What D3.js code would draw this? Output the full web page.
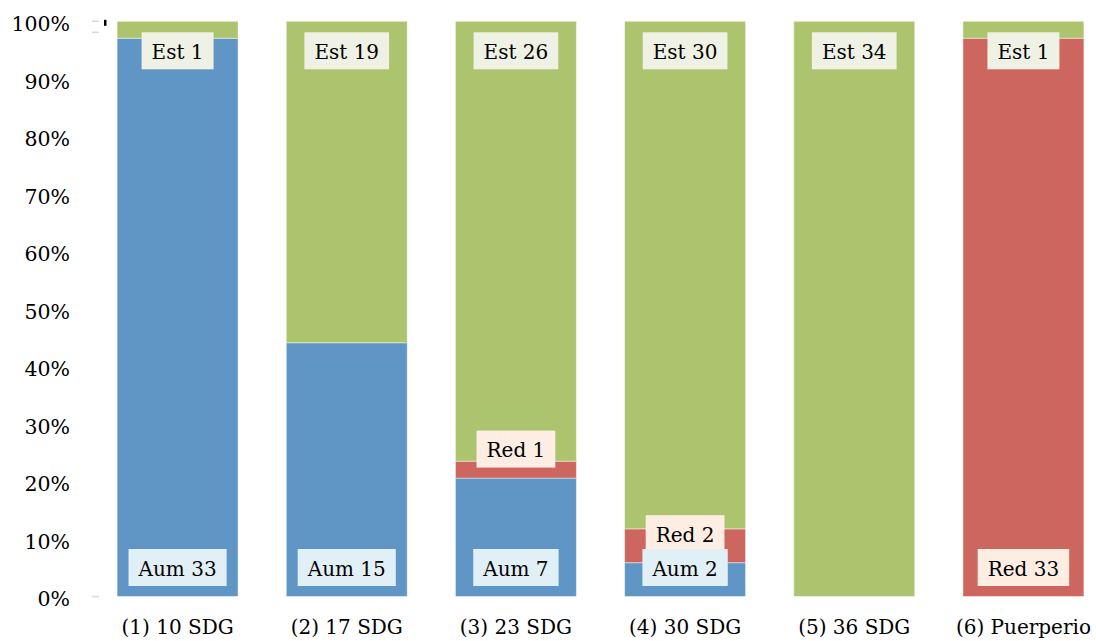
<!DOCTYPE html>
<html>
<head>
<meta charset="utf-8">
<script src="https://cdn.jsdelivr.net/npm/d3@7"></script>
<style>
  html, body { margin: 0; padding: 0; background: #fff; }
  svg text { font-family: "DejaVu Serif", "Liberation Serif", serif; }
</style>
</head>
<body>
<svg id="chart" width="1096" height="641"></svg>
<script>
// Stages of follow-up
const categories = ["(1) 10 SDG", "(2) 17 SDG", "(3) 23 SDG", "(4) 30 SDG", "(5) 36 SDG", "(6) Puerperio"];
// Counts per stage for each series
const aumValues = [33, 15, 7, 2, 0, 0];
const redValues = [0, 0, 1, 2, 0, 33];
const estValues = [1, 19, 26, 30, 34, 1];
const seriesNames = ["Aum", "Red", "Est"];
const yTicks = [0, 0.1, 0.2, 0.3, 0.4, 0.5, 0.6, 0.7, 0.8, 0.9, 1.0];

const colors = { Aum: "#5f96c6", Red: "#cc665f", Est: "#abc46d" };
const boxColors = { Aum: "#e1eff6", Red: "#fdede3", Est: "#eff1e4" };

const rows = categories.map((c, i) => ({
  cat: c, Aum: aumValues[i], Red: redValues[i], Est: estValues[i]
}));

const stack = d3.stack().keys(seriesNames).offset(d3.stackOffsetExpand);
const layers = stack(rows);

const svg = d3.select("#chart");
const x = d3.scaleBand().domain(categories).range([93, 1108]).paddingInner(0.285).paddingOuter(0.1425);
const y = d3.scaleLinear().domain([0, 1]).range([596.5, 21.3]);

// Bars
const g = svg.append("g");
layers.forEach(layer => {
  g.selectAll(null).data(layer).enter().append("rect")
    .attr("x", d => x(d.data.cat))
    .attr("width", x.bandwidth())
    .attr("y", d => y(d[1]))
    .attr("height", d => Math.max(0, y(d[0]) - y(d[1])))
    .attr("fill", colors[layer.key])
    .attr("stroke", "rgba(255,255,255,0.45)")
    .attr("stroke-width", 1);
});

// Y axis
const yAxis = d3.axisLeft(y).tickValues(yTicks).tickFormat(d3.format(".0%")).tickSize(0).tickPadding(0);
const ya = svg.append("g").attr("transform", "translate(70,0)").call(yAxis);
ya.select(".domain").remove();
ya.selectAll("text").attr("font-size", 20.5).attr("fill", "#000").attr("dy", "0.45em")
  .style("font-family", '"DejaVu Serif", serif');

// small tick marks at the ends of the value axis
svg.selectAll(null).data([0, 1]).enter().append("line")
  .attr("x1", 92).attr("x2", 99)
  .attr("y1", d => y(d)).attr("y2", d => y(d))
  .attr("stroke", "#d9d9d9").attr("stroke-width", 1.5);
svg.append("line").attr("x1", 92).attr("x2", 99).attr("y1", y(1) + 11).attr("y2", y(1) + 11)
  .attr("stroke", "#d9d9d9").attr("stroke-width", 1.5);
svg.append("rect").attr("x", 104).attr("y", y(1) - 1.5).attr("width", 2.5).attr("height", 6).attr("fill", "#000");

// X axis
const xAxis = d3.axisBottom(x).tickSize(0).tickPadding(0);
const xa = svg.append("g").attr("transform", "translate(0,614)").call(xAxis);
xa.select(".domain").remove();
xa.selectAll("text").attr("font-size", 20).attr("fill", "#000").attr("dy", "1em")
  .style("font-family", '"DejaVu Serif", serif');

// Data labels: Red and Aum sit at the base of their segment, Est at the top of the bar
const labelOrder = ["Red", "Aum", "Est"];
const lg = svg.append("g");
labelOrder.forEach(key => {
  const layer = layers.find(l => l.key === key);
  layer.forEach(d => {
    const v = d.data[key];
    if (!v) return;
    const cx = x(d.data.cat) + x.bandwidth() / 2;
    const cy = key === "Est" ? y(d[1]) + 29.5 : y(d[0]) - 29;
    const grp = lg.append("g");
    const t = grp.append("text")
      .attr("x", cx).attr("y", cy)
      .attr("text-anchor", "middle").attr("dy", "0.4em")
      .attr("font-size", 20).attr("fill", "#000")
      .text(key + " " + v);
    const w = t.node().getComputedTextLength();
    grp.insert("rect", "text")
      .attr("x", cx - w / 2 - 10).attr("width", w + 20)
      .attr("y", cy - 18.5).attr("height", 37)
      .attr("fill", boxColors[key]);
  });
});
</script>
</body>
</html>
